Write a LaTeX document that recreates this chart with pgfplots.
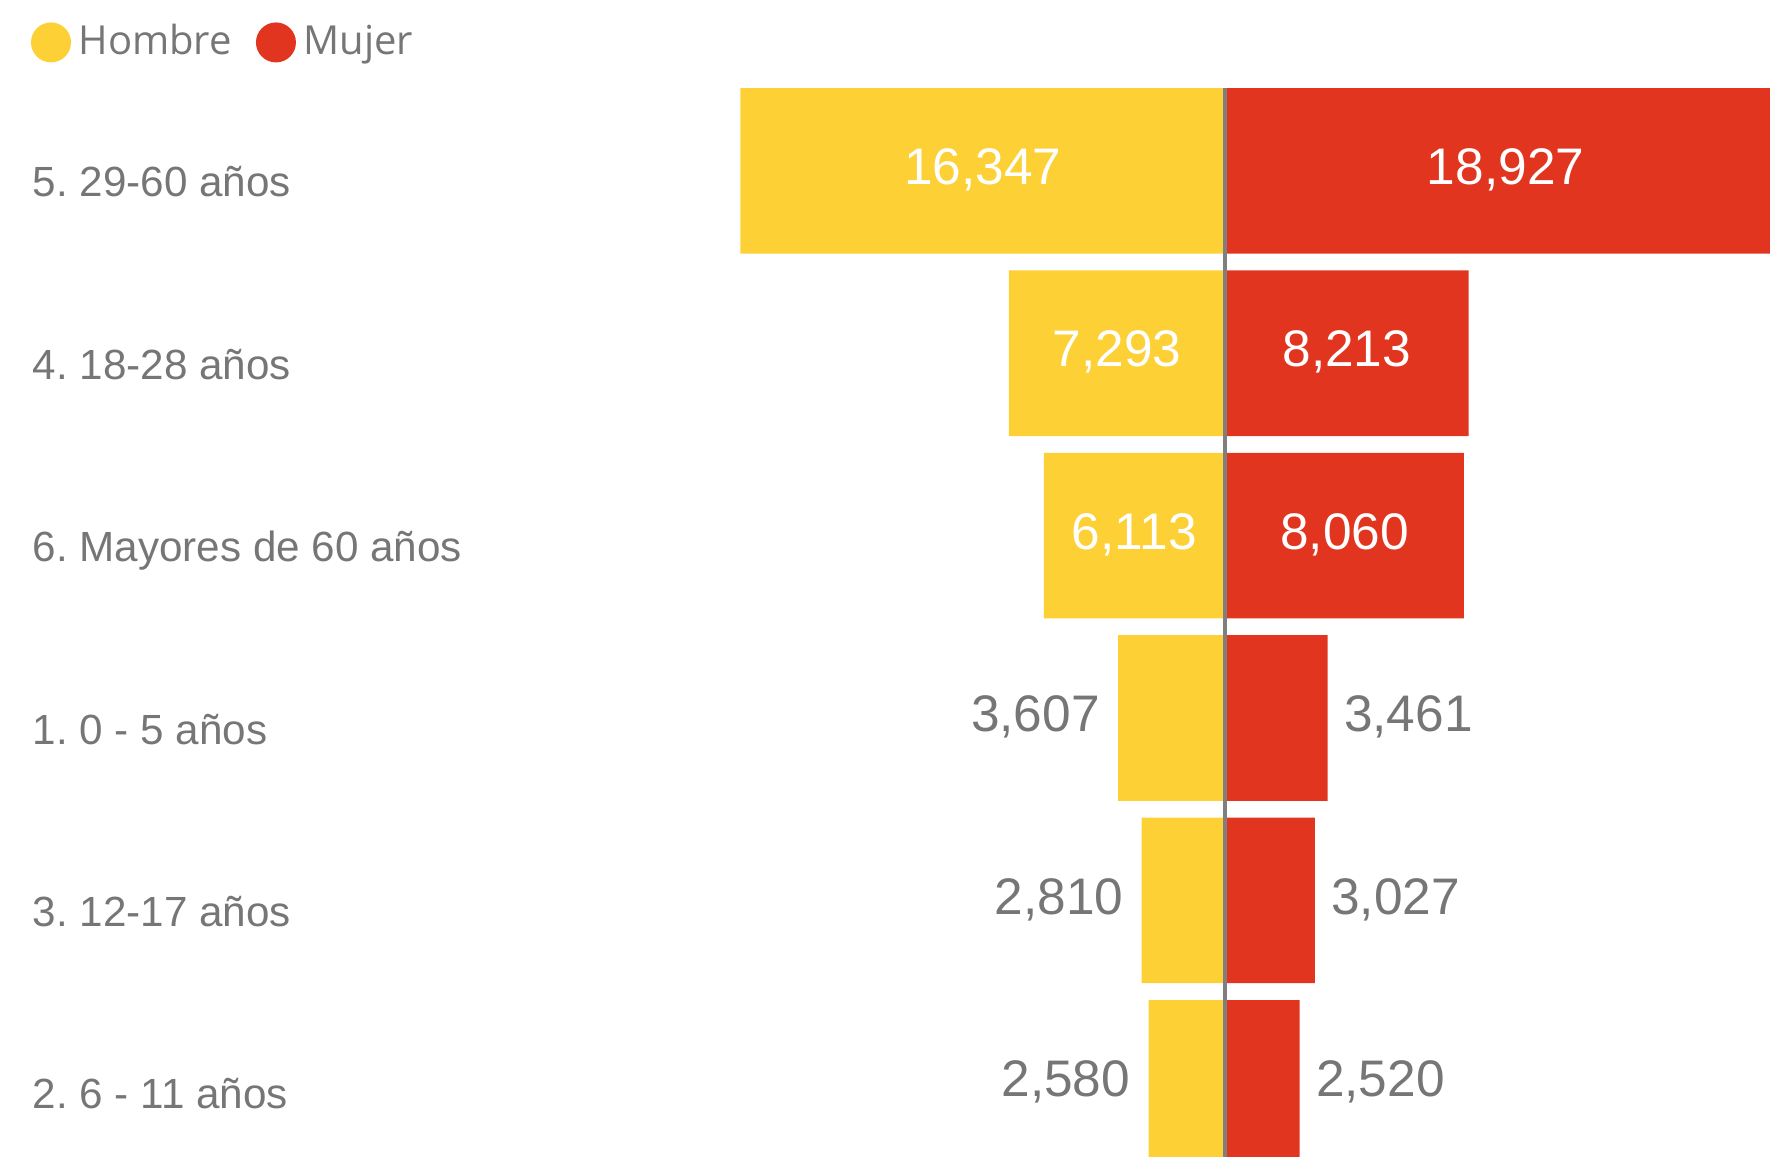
\documentclass[border=0pt]{standalone}
\usepackage{pgfplots}
\pgfplotsset{compat=1.18}
\usepackage{pgfplotstable}
\usepackage{fontspec}
\setmainfont{Liberation Sans}
\newfontfamily\legendfont{Open Sans}
\frenchspacing
\definecolor{hcol}{HTML}{FDD136}
\definecolor{mcol}{HTML}{E2351F}
\definecolor{textgray}{HTML}{767676}
\definecolor{linegray}{HTML}{7F7F7F}

\pgfplotstableread{
y h m
0 16347 18927
1 7293 8213
2 6113 8060
3 3607 3461
4 2810 3027
5 2580 2520
}\data

\begin{document}
\begin{tikzpicture}
\begin{axis}[
  scale only axis,
  width=442.5pt, height=289.25pt,
  xmin=-41315, xmax=18381,
  ymin=-0.9364, ymax=5.4068,
  y dir=reverse,
  clip=true,
  axis line style={draw=none},
  tick style={draw=none},
  xtick=\empty,
  ytick={0,1,2,3,4,5},
  yticklabels={5. 29-60 años, 4. 18-28 años, 6. Mayores de 60 años, 1. 0 - 5 años, 3. 12-17 años, 2. 6 - 11 años},
  yticklabel style={anchor=base west, inner sep=0pt, xshift=8pt, yshift=-6.5pt, text=textgray, font=\fontsize{10.55}{12}\selectfont},
  legend columns=-1,
  legend style={draw=none, fill=none, inner sep=0pt, outer sep=0pt,
    at={(0,1)}, anchor=north west, xshift=7.75pt, yshift=-5.6pt,
    nodes={inner sep=0pt, text=textgray, font=\legendfont\fontsize{10}{12}\selectfont},
    /tikz/every odd column/.style={column sep=1.9pt},
    /tikz/every even column/.style={column sep=6pt}},
]
\addplot[xbar, bar width=0.908, bar shift=0pt, fill=hcol, draw=none,
  legend image code/.code={\fill[hcol] (5pt,0pt) circle (5pt);}]
  table[x expr=-\thisrow{h}, y=y]{\data};
\addlegendentry{Hombre}
\addplot[xbar, bar width=0.908, bar shift=0pt, fill=mcol, draw=none,
  legend image code/.code={\fill[mcol] (5pt,0pt) circle (5pt);}]
  table[x=m, y=y]{\data};
\addlegendentry{Mujer}
\addplot[linegray, line width=1pt, forget plot] coordinates {(0,-0.454) (0,5.6)};
% inside labels
\addplot[draw=none, mark=none, forget plot, restrict y to domain=0:2,
  point meta=explicit,
  nodes near coords={\pgfmathprintnumber[1000 sep={,}, assume math mode=true]{\pgfplotspointmeta}},
  every node near coord/.append style={anchor=base, inner sep=0pt, yshift=-3.4pt, text=white, font=\fontsize{12.85}{14}\selectfont}]
  table[x expr=-\thisrow{h}/2, y=y, meta=h]{\data};
\addplot[draw=none, mark=none, forget plot, restrict y to domain=0:2,
  point meta=explicit,
  nodes near coords={\pgfmathprintnumber[1000 sep={,}, assume math mode=true]{\pgfplotspointmeta}},
  every node near coord/.append style={anchor=base, inner sep=0pt, yshift=-3.4pt, text=white, font=\fontsize{12.85}{14}\selectfont}]
  table[x expr=\thisrow{m}/2, y=y, meta=m]{\data};
% outside labels
\addplot[draw=none, mark=none, forget plot, restrict y to domain=3:5,
  point meta=explicit,
  nodes near coords={\pgfmathprintnumber[1000 sep={,}, assume math mode=true]{\pgfplotspointmeta}},
  every node near coord/.append style={anchor=base east, inner sep=0pt, xshift=-4.4pt, yshift=-3.4pt, text=textgray, font=\fontsize{12.85}{14}\selectfont}]
  table[x expr=-\thisrow{h}, y=y, meta=h]{\data};
\addplot[draw=none, mark=none, forget plot, restrict y to domain=3:5,
  point meta=explicit,
  nodes near coords={\pgfmathprintnumber[1000 sep={,}, assume math mode=true]{\pgfplotspointmeta}},
  every node near coord/.append style={anchor=base west, inner sep=0pt, xshift=3.9pt, yshift=-3.4pt, text=textgray, font=\fontsize{12.85}{14}\selectfont}]
  table[x=m, y=y, meta=m]{\data};
\end{axis}
\pgfresetboundingbox
\useasboundingbox (current axis.south west) rectangle (current axis.north east);
\end{tikzpicture}
\end{document}
